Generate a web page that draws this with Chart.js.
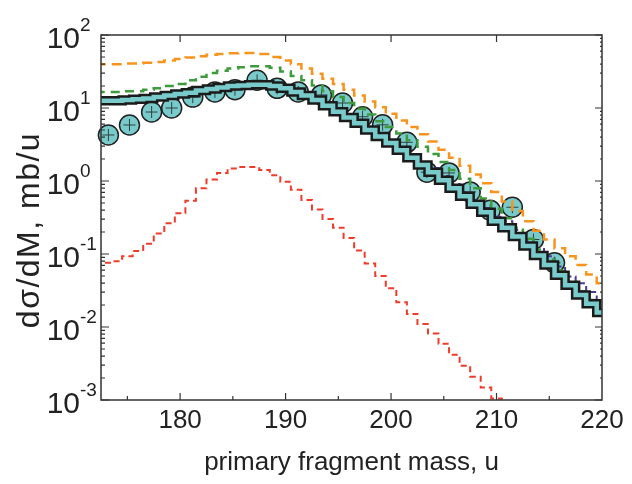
<!DOCTYPE html>
<html lang="en">
<head>
  <meta charset="UTF-8">
  <title>Primary fragment mass distribution</title>
  <script src="https://cdn.jsdelivr.net/npm/chart.js"></script>
  <style>
    html, body { margin: 0; padding: 0; background: #fff; }
    #wrap { width: 632px; height: 484px; }
  </style>
</head>
<body>
  <div id="wrap"><canvas id="massChart" width="632" height="484"></canvas></div>

  <script>
    // bin centres (u) for the model histograms
    const masses = [172, 173, 174, 175, 176, 177, 178, 179, 180, 181, 182, 183, 184, 185, 186, 187, 188, 189,
      190, 191, 192, 193, 194, 195, 196, 197, 198, 199, 200, 201, 202, 203, 204, 205, 206, 207, 208, 209,
      210, 211, 212, 213, 214, 215, 216, 217, 218, 219, 220, 221];

    const orangeCurve = [39.8, 39.8, 39.8, 40.7, 40.7, 41.7, 42.7, 44.7, 46.8, 49.0, 51.3, 53.7, 55.0, 56.2, 56.9, 56.9, 55.0, 50.1,
      44.7, 39.8, 34.7, 29.5, 25.1, 21.4, 17.8, 14.8, 12.3, 10.2, 8.32, 6.76, 5.50, 4.37, 3.47, 2.69, 2.09, 1.62, 1.23, 0.933,
      0.708, 0.525, 0.389, 0.282, 0.209, 0.158, 0.120, 0.0933, 0.0708, 0.0525, 0.0398, 0.0302];

    const greenCurve = [16.6, 16.6, 16.6, 17.0, 17.0, 17.8, 18.6, 20.0, 21.4, 24.0, 26.9, 30.2, 32.4, 34.7, 36.3, 37.2, 37.2, 35.5,
      31.6, 27.5, 24.0, 20.4, 17.0, 14.1, 11.7, 9.77, 8.13, 6.61, 5.50, 4.47, 3.63, 2.95, 2.34, 1.82, 1.41, 1.07, 0.794, 0.575,
      0.417, 0.309, 0.229, 0.162, 0.115, 0.0832, 0.0589, 0.0427, 0.0309, 0.0234, 0.0174, 0.0132];

    const purpleCurve = [13.5, 13.5, 13.5, 13.8, 14.1, 14.5, 15.1, 15.8, 16.6, 17.4, 18.6, 19.5, 20.4, 21.4, 21.9, 22.4, 22.4, 21.4,
      19.9, 17.8, 15.8, 13.8, 11.5, 9.55, 7.94, 6.61, 5.37, 4.37, 3.55, 2.82, 2.24, 1.78, 1.51, 1.17, 0.912, 0.708, 0.550, 0.427,
      0.324, 0.282, 0.214, 0.158, 0.117, 0.0933, 0.0676, 0.0490, 0.0398, 0.0302, 0.0229, 0.0174];

    const blackCurve = [12.6, 12.6, 12.6, 12.9, 13.2, 13.5, 14.1, 14.8, 15.5, 16.2, 17.4, 18.2, 19.1, 20.0, 20.4, 20.9, 20.9, 20.0,
      18.6, 16.6, 14.8, 12.9, 10.7, 8.91, 7.41, 6.17, 5.01, 4.07, 3.31, 2.63, 2.09, 1.66, 1.32, 1.02, 0.794, 0.617, 0.479, 0.372,
      0.282, 0.229, 0.174, 0.129, 0.0955, 0.0708, 0.0513, 0.0372, 0.0275, 0.0209, 0.0158, 0.0120];

    // red one stops once it drops below the axis (172..212)
    const redCurve = [0.0741, 0.0759, 0.0794, 0.0933, 0.110, 0.138, 0.191, 0.263, 0.363, 0.537, 0.794, 1.05, 1.29, 1.48, 1.55, 1.55,
      1.41, 1.20, 0.977, 0.759, 0.550, 0.407, 0.302, 0.229, 0.166, 0.112, 0.0741, 0.0501, 0.0339, 0.0219, 0.0151, 0.0110,
      0.00813, 0.00589, 0.00417, 0.00295, 0.00209, 0.00148, 0.00105, 0.000759, 0.000537];

    // measured points
    const dataMass = [173.2, 175.2, 177.3, 179.2, 181.2, 183.3, 185.2, 187.3, 189.2, 191.2, 193.4, 195.4, 197.3, 199.2,
      201.5, 203.4, 205.5, 207.5, 209.4, 211.5, 213.5, 215.5];
    const dataValues = [4.27, 5.85, 8.81, 10.0, 14.1, 16.6, 17.8, 24.0, 18.6, 16.6, 15.1, 11.7, 7.59, 5.89,
      3.39, 1.32, 1.29, 0.708, 0.398, 0.437, 0.158, 0.0759];

    const xTicks = [180, 190, 200, 210, 220];
    const yExponents = [2, 1, 0, -1, -2, -3];
    const yTitle = 'dσ/dM, mb/u';

    const FONT = "'Liberation Sans', Arial, sans-serif";
    const AXIS = '#333';
    const CYAN = '#79cbcb';

    const pts = (vals) => vals.map((v, i) => ({ x: masses[i], y: v }));

    function stepSet(vals, color, width, dash, order) {
      return {
        data: pts(vals),
        borderColor: color,
        borderWidth: width,
        borderDash: dash,
        stepped: 'middle',
        pointRadius: 0,
        fill: false,
        clip: 0,
        order: order
      };
    }

    // frame, inward ticks, the 10^n labels and the y title
    const framePlugin = {
      id: 'frame',
      afterDatasetsDraw(chart) {
        const { ctx, chartArea: a, scales: { x, y } } = chart;
        ctx.save();
        ctx.strokeStyle = AXIS;
        ctx.lineWidth = 1.5;
        ctx.strokeRect(a.left, a.top, a.right - a.left, a.bottom - a.top);

        ctx.lineWidth = 1.2;
        ctx.beginPath();
        for (let m = 175; m < 220; m += 5) {
          const px = x.getPixelForValue(m);
          const len = m % 10 === 0 ? 7 : 4;
          ctx.moveTo(px, a.bottom); ctx.lineTo(px, a.bottom - len);
          if (m % 10 === 0) { ctx.moveTo(px, a.top); ctx.lineTo(px, a.top + len); }
        }
        yExponents.forEach(e => {
          const base = Math.pow(10, e);
          const py = y.getPixelForValue(base);
          ctx.moveTo(a.left, py); ctx.lineTo(a.left + 8, py);
          ctx.moveTo(a.right, py); ctx.lineTo(a.right - 7, py);
          if (e > -3) {
            for (let k = 2; k <= 9; k++) {
              const my = y.getPixelForValue(base * k / 10);
              ctx.moveTo(a.left, my); ctx.lineTo(a.left + 4, my);
              ctx.moveTo(a.right, my); ctx.lineTo(a.right - 2, my);
            }
          }
        });
        ctx.stroke();

        ctx.fillStyle = '#222';
        ctx.textBaseline = 'middle';
        yExponents.forEach(e => {
          const py = y.getPixelForValue(Math.pow(10, e));
          ctx.font = '30px ' + FONT;
          ctx.textAlign = 'right';
          ctx.fillText('10', 80, py + 5);
          ctx.font = '19px ' + FONT;
          ctx.textAlign = 'left';
          ctx.fillText(String(e), 80, py - 9);
        });

        ctx.translate(30, 230);
        ctx.rotate(-Math.PI / 2);
        ctx.font = '32px ' + FONT;
        ctx.letterSpacing = '1.5px';
        ctx.textAlign = 'center';
        ctx.fillText(yTitle, 0, 0);
        ctx.restore();
      }
    };

    new Chart(document.getElementById('massChart'), {
      type: 'line',
      data: {
        datasets: [
          stepSet(blackCurve, CYAN, 4.5, [], 0),
          stepSet(blackCurve, '#1b1b1b', 9.5, [], 1),
          stepSet(greenCurve, '#3d9a3d', 2.5, [9, 6], 2),
          stepSet(purpleCurve, '#4b3b98', 2, [6, 4], 3),
          stepSet(orangeCurve, '#f7941d', 2.5, [10, 6], 4),
          stepSet(redCurve, '#ee3b2b', 2, [6, 4], 5),
          {
            data: dataMass.map((m, i) => ({ x: m, y: dataValues[i] })),
            showLine: false,
            pointStyle: 'cross',
            pointRadius: 6,
            borderColor: '#30403f',
            borderWidth: 1,
            clip: false,
            order: 6
          },
          {
            data: dataMass.map((m, i) => ({ x: m, y: dataValues[i] })),
            showLine: false,
            pointStyle: 'circle',
            pointRadius: 10,
            backgroundColor: CYAN,
            borderColor: '#222',
            borderWidth: 1.5,
            clip: false,
            order: 7
          }
        ]
      },
      options: {
        responsive: false,
        animation: false,
        events: [],
        layout: { padding: { top: 35, right: 30, left: 0, bottom: 0 } },
        plugins: { legend: { display: false }, tooltip: { enabled: false } },
        scales: {
          x: {
            type: 'linear',
            min: 172.5,
            max: 220,
            grid: { display: false, drawTicks: false },
            border: { display: false },
            afterFit: (s) => { s.height = 84; },
            afterBuildTicks: (s) => { s.ticks = xTicks.map(v => ({ value: v })); },
            ticks: {
              padding: 5,
              color: '#222',
              font: { family: FONT, size: 26 },
              callback: (v) => String(v)
            },
            title: {
              display: true,
              text: 'primary fragment mass, u',
              color: '#222',
              font: { family: FONT, size: 26 },
              padding: { top: 0, bottom: 6 }
            }
          },
          y: {
            type: 'logarithmic',
            min: 0.001,
            max: 100,
            grid: { display: false, drawTicks: false },
            border: { display: false },
            ticks: { display: false },
            afterFit: (s) => { s.width = 101; },
            title: { display: false }
          }
        }
      },
      plugins: [framePlugin]
    });
  </script>
</body>
</html>
